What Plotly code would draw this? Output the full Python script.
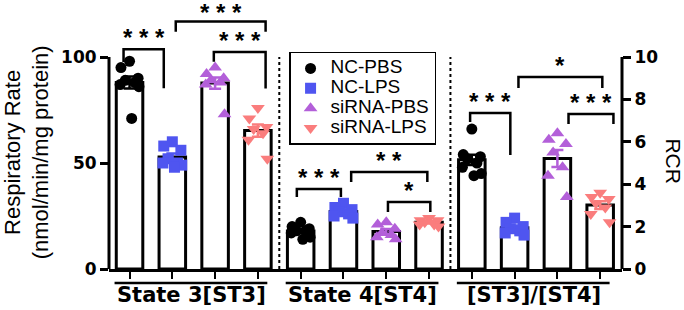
import numpy as np
import plotly.graph_objects as go

# ---------------- data ----------------
series = ["NC-PBS", "NC-LPS", "siRNA-PBS", "siRNA-LPS"]
groups = ["State 3[ST3]", "State 4[ST4]", "[ST3]/[ST4]"]

# State 3 respiratory rate (nmol/min/mg protein)
st3_nc_pbs = [98, 95, 90, 89, 88, 87, 86, 71]
st3_nc_lps = [60, 58, 56, 52, 50, 50, 49, 48]
st3_si_pbs = [95, 92, 90, 89, 88, 87, 73]
st3_si_lps = [76, 71, 67, 66, 64, 61, 52]

# State 4 respiratory rate
st4_nc_pbs = [22, 20, 19, 18, 18, 17, 15, 14]
st4_nc_lps = [31, 29, 28, 27, 26, 25, 24]
st4_si_pbs = [22, 21, 19, 17, 16, 15, 14]
st4_si_lps = [24, 23, 23, 22, 21, 21, 20]

# RCR = ST3/ST4 (right axis)
rcr_nc_pbs = [6.6, 5.4, 5.3, 5.2, 5.0, 4.8, 4.5, 4.4]
rcr_nc_lps = [2.4, 2.2, 2.0, 1.9, 1.8, 1.7, 1.6]
rcr_si_pbs = [6.4, 6.1, 5.9, 5.5, 4.8, 4.4, 3.4]
rcr_si_lps = [3.6, 3.4, 3.3, 3.1, 2.9, 2.6, 2.2]

left_ticks = [0, 50, 100]
right_ticks = [0, 2, 4, 6, 8, 10]

# significance brackets: (x_start, x_end, top, left leg end, right leg end, label, axis)
brackets = [
    (-0.14, 0.80, 103.6, 97.7, 85.3, "* * *", "y"),
    (1.08, 3.18, 116.8, 111.9, 111.9, "* * *", "y"),
    (1.97, 3.18, 102.4, 97.8, 85.2, "* * *", "y"),
    (3.91, 4.94, 37.7, 34.0, 34.0, "* * *", "y"),
    (5.18, 6.96, 45.8, 41.0, 41.0, "* *", "y"),
    (6.04, 7.03, 31.6, 26.9, 26.9, "*", "y"),
    (7.96, 8.90, 7.36, 6.93, 5.38, "* * *", "y2"),
    (9.09, 11.05, 9.06, 8.54, 8.54, "*", "y2"),
    (10.26, 11.31, 7.31, 6.84, 6.84, "* * *", "y2"),
]

# ---------------- styling ----------------
colors = ["#000000", "#4f55f0", "#b35fd9", "#fa7d7d"]
symbols = ["circle", "square", "triangle-up", "triangle-down"]
msizes = [11, 11, 12, 12]

data = {
    0: [st3_nc_pbs, st3_nc_lps, st3_si_pbs, st3_si_lps],
    1: [st4_nc_pbs, st4_nc_lps, st4_si_pbs, st4_si_lps],
    2: [rcr_nc_pbs, rcr_nc_lps, rcr_si_pbs, rcr_si_lps],
}

jit = [0.0, -0.2, 0.2, -0.1, 0.12, -0.22, 0.22, 0.05]

fig = go.Figure()

BAR_W = 0.62
for s in range(4):
    for axis, glist in (("y", [0, 1]), ("y2", [2])):
        xs, means, sems = [], [], []
        px, py = [], []
        for g in glist:
            vals = np.array(data[g][s], dtype=float)
            pos = 4 * g + s
            xs.append(pos)
            means.append(vals.mean())
            sems.append(vals.std(ddof=1) / np.sqrt(len(vals)))
            for k, v in enumerate(vals):
                px.append(pos + jit[k % len(jit)])
                py.append(v)
        fig.add_trace(go.Bar(
            x=xs, y=means, width=BAR_W, yaxis=axis,
            marker=dict(color="white", line=dict(color="black", width=3)),
            showlegend=False, hoverinfo="skip"))
        fig.add_trace(go.Scatter(
            x=px, y=py, mode="markers", yaxis=axis,
            marker=dict(symbol=symbols[s], color=colors[s], size=msizes[s]),
            name='<span style="font-size:19px">%s</span>' % series[s],
            showlegend=(axis == "y")))
        fig.add_trace(go.Scatter(
            x=xs, y=means, mode="markers", yaxis=axis,
            marker=dict(size=1, opacity=0),
            error_y=dict(type="data", array=sems, color=colors[s],
                         thickness=2.5, width=6),
            showlegend=False, hoverinfo="skip"))

shapes = []
# axis lines (only up to the top tick)
shapes.append(dict(type="line", xref="paper", x0=0, x1=0, yref="y", y0=0, y1=100,
                   line=dict(color="black", width=3)))
shapes.append(dict(type="line", xref="paper", x0=1, x1=1, yref="y2", y0=0, y1=10,
                   line=dict(color="black", width=3)))
# dotted separators
for xv in (3.5, 7.5):
    shapes.append(dict(type="line", xref="x", x0=xv, x1=xv, yref="y", y0=0, y1=100,
                       line=dict(color="black", width=2, dash="dot")))

annotations = []
for (x0, x1, top, l0, r0, lab, ax) in brackets:
    shapes.append(dict(type="path", xref="x", yref=ax,
                       path="M %f %f L %f %f L %f %f L %f %f" % (x0, l0, x0, top, x1, top, x1, r0),
                       line=dict(color="black", width=2.5)))
    near_top = ax == "y" and top > 110
    annotations.append(dict(x=(x0 + x1) / 2, y=top, xref="x", yref=ax, text=lab,
                            showarrow=False, yanchor="bottom", yshift=-7 if near_top else -4,
                            font=dict(family="Liberation Sans", size=24, weight="bold", color="black")))

# group labels with lines
for g, name in enumerate(groups):
    a = 4 * g - 0.35
    b = 4 * g + 3.22
    shapes.append(dict(type="line", xref="x", x0=a, x1=b, yref="paper", y0=-0.053, y1=-0.053,
                       line=dict(color="black", width=2.5)))
    annotations.append(dict(x=4 * g + 1.45, y=-0.098, xref="x", yref="paper",
                            text=name, showarrow=False, xanchor="center", yanchor="middle",
                            font=dict(family="DejaVu Sans", size=21, weight="bold", color="black")))

annotations.append(dict(x=-0.16, y=0.44, xref="paper", yref="paper",
                        text="Respiratory Rate<br>(nmol/min/mg protein)",
                        textangle=-90, showarrow=False, xanchor="center", yanchor="middle",
                        font=dict(family="Liberation Sans", size=22, color="black")))
annotations.append(dict(x=1.1, y=0.405, xref="paper", yref="paper", text="RCR",
                        textangle=90, showarrow=False, xanchor="center", yanchor="middle",
                        font=dict(family="Liberation Sans", size=21, color="black")))

tickfont = dict(family="DejaVu Sans", size=17, weight="bold", color="black")
fig.update_layout(
    width=684, height=310,
    margin=dict(l=109, r=62, t=4, b=41),
    paper_bgcolor="white", plot_bgcolor="white",
    barmode="overlay",
    xaxis=dict(range=[-0.48, 11.51], tickvals=list(range(12)), showticklabels=False,
               ticks="outside", ticklen=7, tickwidth=2, tickcolor="black",
               showline=True, linewidth=3, linecolor="black",
               showgrid=False, zeroline=False),
    yaxis=dict(range=[0, 125], tickvals=left_ticks, ticks="outside", ticklen=8,
               tickwidth=3, tickcolor="black", showline=False, showgrid=False,
               zeroline=False, tickfont=tickfont),
    yaxis2=dict(range=[0, 12.5], tickvals=right_ticks, overlaying="y", side="right",
                ticks="outside", ticklen=8, tickwidth=3, tickcolor="black",
                showline=False, showgrid=False, zeroline=False, tickfont=tickfont),
    legend=dict(x=0.351, y=0.819, xanchor="left", yanchor="top",
                bgcolor="white", bordercolor="black", borderwidth=1.5,
                font=dict(family="Liberation Sans", size=13, color="black"),
                tracegroupgap=0),
    shapes=shapes, annotations=annotations,
)

fig.write_html("out.html", config={"displayModeBar": False},
               post_script="document.body.style.margin='0';")
